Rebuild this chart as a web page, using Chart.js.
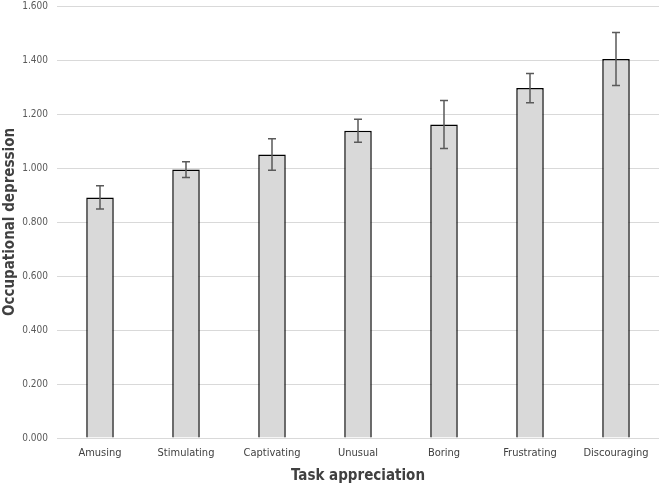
<!DOCTYPE html>
<html>
<head>
<meta charset="utf-8">
<script src="https://cdn.jsdelivr.net/npm/chart.js@4"></script>
<style>
  body { margin: 0; background: #fff; }
  #wrap { width: 662px; height: 485px; }
</style>
</head>
<body>
<div id="wrap"><canvas id="chart"></canvas></div>
<script>
const categories = ["Amusing", "Stimulating", "Captivating", "Unusual", "Boring", "Frustrating", "Discouraging"];
const means = [0.891, 0.994, 1.050, 1.138, 1.161, 1.296, 1.404];
const errors = [0.043, 0.029, 0.058, 0.043, 0.089, 0.054, 0.098];
const yTicks = [0, 0.2, 0.4, 0.6, 0.8, 1.0, 1.2, 1.4, 1.6];

const narrow = '"Liberation Sans Narrow", "DejaVu Sans Condensed", "Arial Narrow", sans-serif';

// error bars drawn on top of the bars, using the chart scales
const errorBars = {
  id: 'errorBars',
  afterDatasetsDraw(chart) {
    const { ctx, scales: { x, y } } = chart;
    ctx.save();
    ctx.strokeStyle = '#5a5a5a';
    ctx.lineWidth = 1.5;
    means.forEach((m, i) => {
      const px = x.getPixelForValue(i);
      const top = y.getPixelForValue(m + errors[i]);
      const bot = y.getPixelForValue(m - errors[i]);
      ctx.beginPath();
      ctx.moveTo(px, top); ctx.lineTo(px, bot);
      ctx.moveTo(px - 4, top); ctx.lineTo(px + 4, top);
      ctx.moveTo(px - 4, bot); ctx.lineTo(px + 4, bot);
      ctx.stroke();
    });
    ctx.restore();
  }
};

new Chart(document.getElementById('chart'), {
  type: 'bar',
  data: {
    labels: categories,
    datasets: [{
      data: means,
      backgroundColor: '#d9d9d9',
      borderColor: '#000',
      borderWidth: 1.5,
      barPercentage: 0.32,
      categoryPercentage: 1.0
    }]
  },
  options: {
    responsive: true,
    maintainAspectRatio: false,
    animation: false,
    layout: { padding: { top: 0, right: 3, left: 1, bottom: 0 } },
    plugins: { legend: { display: false }, tooltip: { enabled: false } },
    scales: {
      x: {
        grid: { display: false },
        border: { display: false },
        ticks: { color: '#404040', font: { family: narrow, size: 11 }, padding: 1 },
        title: {
          display: true, text: 'Task appreciation', color: '#404040',
          font: { family: narrow, size: 15, weight: 'bold' }, padding: { top: 1, bottom: 0 }
        },
        afterFit(axis) { axis.height = 47; }
      },
      y: {
        min: 0, max: 1.6,
        afterBuildTicks(axis) { axis.ticks = yTicks.map(v => ({ value: v })); },
        grid: { color: '#d9d9d9', lineWidth: 1, drawTicks: false },
        border: { display: false },
        ticks: {
          color: '#595959', padding: 9,
          font: { family: narrow, size: 10 },
          callback: v => v.toFixed(3)
        },
        title: {
          display: true, text: 'Occupational depression', color: '#404040',
          font: { family: narrow, size: 15, weight: 'bold' }, padding: { top: 0, bottom: 3 }
        },
        afterFit(axis) {
          axis.width = 56;
          axis.paddingTop = 6;
          axis.paddingBottom = 0;
        }
      }
    }
  },
  plugins: [errorBars]
});
</script>
</body>
</html>
